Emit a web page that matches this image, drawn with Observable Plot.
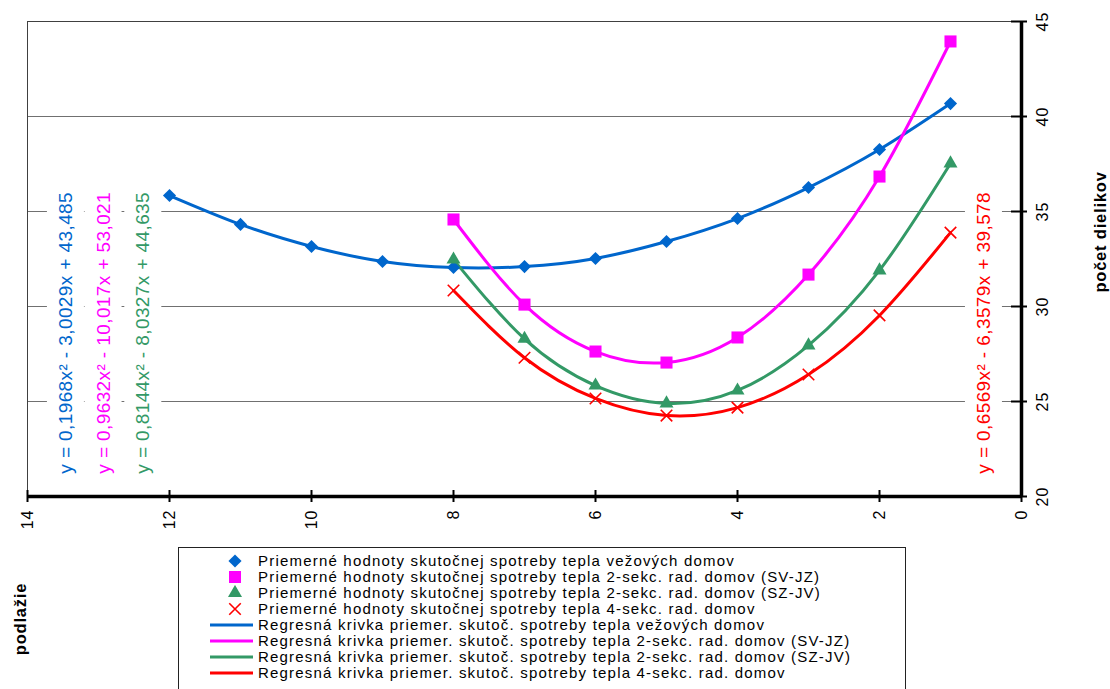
<!DOCTYPE html>
<html><head><meta charset="utf-8">
<script src="https://cdn.jsdelivr.net/npm/d3@7"></script>
<script src="https://cdn.jsdelivr.net/npm/@observablehq/plot@0.6"></script>
<style>
html,body{margin:0;padding:0;background:#fff;overflow:hidden}
#wrap{position:relative;width:1110px;height:689px;font-family:"Liberation Sans",Arial,sans-serif;overflow:hidden}
#legend{position:absolute;left:178px;top:547px;width:728px;height:170px;border:1px solid #222;box-sizing:border-box;padding-top:5px;background:#fff}
.row{display:flex;align-items:center;height:16px}
.sw{width:79px;height:16px;flex:none;display:block}
.lt{font-size:15px;letter-spacing:1.2px;white-space:nowrap;line-height:16px;color:#000}
.atitle{position:absolute;font-weight:bold;font-size:16.5px;letter-spacing:0.8px;white-space:nowrap;transform:translate(-50%,-50%) rotate(-90deg);color:#000}
</style></head><body><div id="wrap"></div>
<script>
// ---- data ----
const floorsTower = [12, 11, 10, 9, 8, 7, 6, 5, 4, 3, 2, 1];
const towerValues = [35.84, 34.32, 33.16, 32.37, 32.05, 32.1, 32.53, 33.42, 34.63, 36.26, 38.26, 40.68];
const floorsRow = [8, 7, 6, 5, 4, 3, 2, 1];
const svjzValues = [34.58, 30.1, 27.63, 27.05, 28.37, 31.68, 36.84, 43.95];
const szjvValues = [32.47, 28.3, 25.84, 24.9, 25.58, 27.95, 31.9, 37.53];
const sekc4Values = [30.84, 27.3, 25.16, 24.26, 24.68, 26.42, 29.53, 33.89];
const xTicks = [0, 2, 4, 6, 8, 10, 12, 14];
const yTicks = [20, 25, 30, 35, 40, 45];
const gridValues = [25, 30, 35, 40];
const pointNames = [
  "Priemerné hodnoty skutočnej spotreby tepla vežových domov",
  "Priemerné hodnoty skutočnej spotreby tepla 2-sekc. rad. domov (SV-JZ)",
  "Priemerné hodnoty skutočnej spotreby tepla 2-sekc. rad. domov (SZ-JV)",
  "Priemerné hodnoty skutočnej spotreby tepla 4-sekc. rad. domov"
];
const trendNames = [
  "Regresná krivka priemer. skutoč. spotreby tepla vežových domov",
  "Regresná krivka priemer. skutoč. spotreby tepla 2-sekc. rad. domov (SV-JZ)",
  "Regresná krivka priemer. skutoč. spotreby tepla 2-sekc. rad. domov (SZ-JV)",
  "Regresná krivka priemer. skutoč. spotreby tepla 4-sekc. rad. domov"
];
const equations = [
  "y = 0,1968x² - 3,0029x + 43,485",
  "y = 0,9632x² - 10,017x + 53,021",
  "y = 0,8144x² - 8,0327x + 44,635",
  "y = 0,6569x² - 6,3579x + 39,578"
];
// label anchor positions (floor, value) of the equation texts
const eqFloor = [13.46, 12.93, 12.37, 0.53];
const eqValue = [21.2, 21.2, 21.2, 21.2];
const xTitle = "podlažie";
const yTitle = "počet dielikov";

// ---- styles ----
const colors = ["#0066CC", "#FF00FF", "#339966", "#FF0000"];
const symbols = ["diamond2", "square", "triangle", "times"];
const radii = [5.9, 6.8, 5.2, 5.3];
const font = '"Liberation Sans", Arial, sans-serif';

const mk = (xs, ys) => xs.map((x, i) => ({x, y: ys[i]}));
const series = [
  mk(floorsTower, towerValues),
  mk(floorsRow, svjzValues),
  mk(floorsRow, szjvValues),
  mk(floorsRow, sekc4Values)
];
const eqData = equations.map((t, i) => ({x: eqFloor[i], y: eqValue[i], text: t, color: colors[i]}));

const marks = [
  Plot.ruleY(gridValues, {stroke: "#707070", strokeWidth: 1}),
  Plot.ruleY([45], {stroke: "#404040", strokeWidth: 1}),
  Plot.ruleX([14], {stroke: "#404040", strokeWidth: 1}),
  Plot.text(eqData, {x: "x", y: "y", text: "text", fill: "color", rotate: -90, textAnchor: "start", fontSize: 19})
];
series.forEach((d, i) => marks.push(Plot.line(d, {x: "x", y: "y", stroke: colors[i], strokeWidth: 3, curve: "natural"})));
series.forEach((d, i) => {
  if (symbols[i] === "times") marks.push(Plot.dot(d, {x: "x", y: "y", symbol: "times", r: radii[i], stroke: colors[i], strokeWidth: 1.6, fill: "none"}));
  else marks.push(Plot.dot(d, {x: "x", y: "y", symbol: symbols[i], r: radii[i], fill: colors[i], stroke: "none"}));
});
marks.push(
  Plot.ruleY([20], {stroke: "#000", strokeWidth: 3.5}),
  Plot.ruleX([0], {stroke: "#000", strokeWidth: 3.5}),
  Plot.axisX({ticks: xTicks, tickSize: 12, dy: -6, tickFormat: () => "", strokeWidth: 2, stroke: "#000", label: null}),
  Plot.axisX({ticks: xTicks, tickSize: 0, tickPadding: 13, tickRotate: -90, fontSize: 16, fill: "#000", label: null}),
  Plot.axisY({anchor: "right", ticks: yTicks, tickSize: 16, dx: -11, tickFormat: () => "", strokeWidth: 2, stroke: "#000", label: null}),
  Plot.axisY({anchor: "right", ticks: yTicks, tickSize: 0, tickPadding: 26, tickRotate: -90, fontSize: 16, fill: "#000", label: null})
);

const chart = Plot.plot({
  width: 1110, height: 545,
  marginTop: 21, marginBottom: 49, marginLeft: 27, marginRight: 89,
  style: {fontFamily: font, background: "white", overflow: "visible"},
  x: {domain: [14, 0]},
  y: {domain: [20, 45]},
  color: {type: "identity"},
  marks
});
const wrap = document.getElementById("wrap");
wrap.appendChild(chart);

// letter spacing similar to the original renderer
d3.select(chart).selectAll('g[aria-label="x-axis tick label"] text, g[aria-label="y-axis tick label"] text').style("letter-spacing", "1px");
const eqTexts = d3.select(chart).selectAll('g[aria-label="text"] text').style("letter-spacing", "0.4px");
// white boxes behind the equation labels (derived from their own bounding boxes)
eqTexts.each(function() {
  const b = this.getBBox();
  const r = document.createElementNS("http://www.w3.org/2000/svg", "rect");
  r.setAttribute("x", b.x - 4);
  r.setAttribute("y", b.y - 8);
  r.setAttribute("width", b.width + 8);
  r.setAttribute("height", b.height + 16);
  r.setAttribute("fill", "white");
  const t = this.getAttribute("transform");
  if (t) r.setAttribute("transform", t);
  this.parentNode.insertBefore(r, this.parentNode.firstChild);
});

// axis titles
const xt = document.createElement("div");
xt.className = "atitle"; xt.textContent = xTitle;
xt.style.left = "20px"; xt.style.top = "619px";
wrap.appendChild(xt);
const yt = document.createElement("div");
yt.className = "atitle"; yt.textContent = yTitle;
yt.style.left = "1100px"; yt.style.top = "232px";
wrap.appendChild(yt);

// legend
const legend = document.createElement("div");
legend.id = "legend";
wrap.appendChild(legend);
function addRow(kind, i, label) {
  const row = document.createElement("div");
  row.className = "row";
  const sw = d3.create("svg").attr("class", "sw").attr("width", 79).attr("height", 16);
  if (kind === "point") {
    const sym = {diamond2: d3.symbolDiamond2, square: d3.symbolSquare, triangle: d3.symbolTriangle, times: d3.symbolTimes}[symbols[i]];
    const p = sw.append("path").attr("transform", "translate(56,8)").attr("d", d3.symbol(sym, Math.PI * radii[i] * radii[i])());
    if (symbols[i] === "times") p.attr("fill", "none").attr("stroke", colors[i]).attr("stroke-width", 1.6);
    else p.attr("fill", colors[i]);
  } else {
    sw.append("line").attr("x1", 31).attr("x2", 74).attr("y1", 8).attr("y2", 8).attr("stroke", colors[i]).attr("stroke-width", 3);
  }
  row.appendChild(sw.node());
  const t = document.createElement("span");
  t.className = "lt"; t.textContent = label;
  row.appendChild(t);
  legend.appendChild(row);
}
pointNames.forEach((n, i) => addRow("point", i, n));
trendNames.forEach((n, i) => addRow("trend", i, n));
</script>
</body></html>
